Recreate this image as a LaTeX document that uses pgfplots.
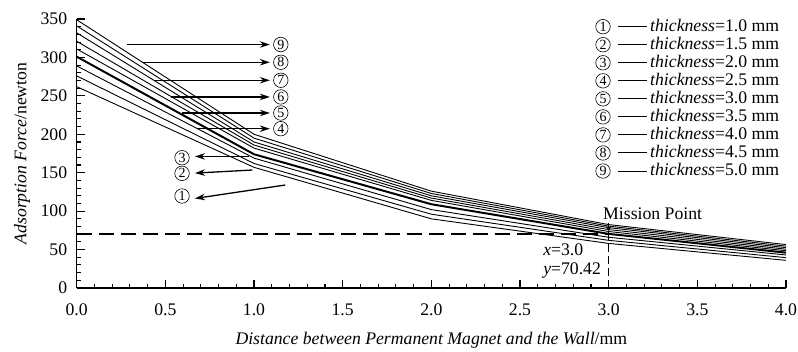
\documentclass[border=0pt]{standalone}
\usepackage{pgfplots}
\pgfplotsset{compat=1.18}
\usepackage{fontspec}
\setmainfont{Liberation Serif}
\usetikzlibrary{arrows.meta}
\tikzset{circ/.style={circle, draw, line width=0.6pt, inner sep=0pt, minimum size=14.5pt, font=\fontsize{14}{14}\selectfont},
  arr/.style={-{Stealth[length=10pt,width=6.5pt]}, line width=1.3pt}}
\begin{document}
\begin{tikzpicture}
\begin{axis}[name=ax, scale only axis, width=709.3pt, height=269pt,
  xmin=0, xmax=4, ymin=0, ymax=350,
  axis x line*=bottom, axis y line*=left,
  axis line style={line width=1.3pt, -},
  tick align=inside, major tick length=8pt, minor tick length=4.5pt,
  every tick/.style={line width=1.1pt, black},
  xtick={0,0.5,...,4}, minor x tick num=4,
  ytick={0,50,...,350}, minor y tick num=4,
  /pgf/number format/assume math mode=true,
  tick label style={font=\fontsize{17.7}{17.7}\selectfont},
  xticklabel style={/pgf/number format/fixed, /pgf/number format/fixed zerofill, /pgf/number format/precision=1, yshift=-12pt},
  yticklabel style={xshift=-6pt},
  label style={font=\fontsize{17.7}{17.7}\selectfont},
  xlabel={\textit{Distance between Permanent Magnet and the Wall}/mm},
  ylabel={\textit{Adsorption Force}/newton},
  x label style={at={(axis description cs:0.5,-0.1933)}, anchor=center},
  y label style={at={(axis description cs:-0.0771,0.5)}, anchor=center},
]
% thickness = 1.0, 1.5, ..., 5.0 mm
\addplot[black, line width=0.9pt] coordinates {(0,262)(1,157)(2,90)(3,58)(4,36)};
\addplot[black, line width=0.9pt] coordinates {(0,276)(1,162)(2,96)(3,62)(4,39.5)};
\addplot[black, line width=0.9pt] coordinates {(0,289)(1,169)(2,102)(3,66)(4,43)};
\addplot[black, line width=2pt] coordinates {(0,301)(1,174)(2,109)(3,70.42)(4,46)};
\addplot[black, line width=0.9pt] coordinates {(0,311)(1,182)(2,114)(3,73.5)(4,48.5)};
\addplot[black, line width=0.9pt] coordinates {(0,321)(1,186)(2,117)(3,76)(4,50.5)};
\addplot[black, line width=0.9pt] coordinates {(0,332)(1,190)(2,120)(3,78.5)(4,52.5)};
\addplot[black, line width=0.9pt] coordinates {(0,341)(1,195)(2,123)(3,80.5)(4,54.5)};
\addplot[black, line width=0.9pt] coordinates {(0,349)(1,200)(2,126)(3,82.5)(4,56.5)};
% mission point guides
\addplot[black, line width=1.4pt, dash pattern=on 15pt off 7pt] coordinates {(0,70.42)(3,70.42)};
\addplot[black, line width=1.4pt, dash pattern=on 8pt off 4pt] coordinates {(3,0)(3,76)};
\draw[-{Stealth[length=5pt,width=5pt]}, line width=0.8pt] (axis cs:3,84) -- (axis cs:3,74);
\node[font=\fontsize{17.7}{17.7}\selectfont] at (axis cs:3.248,97.2) {Mission Point};
\node[anchor=west, font=\fontsize{17.7}{17.7}\selectfont, inner sep=0pt] at (axis cs:2.63,50.3) {\textit{x}=3.0};
\node[anchor=west, font=\fontsize{17.7}{17.7}\selectfont, inner sep=0pt] at (axis cs:2.63,22.5) {\textit{y}=70.42};
% annotation arrows
\draw[arr] (axis cs:0.286,316.8) -- (axis cs:1.089,316.8); \node[circ] at (axis cs:1.151,316.8) {9};
\draw[arr] (axis cs:0.371,293.7) -- (axis cs:1.089,293.7); \node[circ] at (axis cs:1.151,293.7) {8};
\draw[arr] (axis cs:0.442,270.3) -- (axis cs:1.089,270.3); \node[circ] at (axis cs:1.151,270.3) {7};
\draw[arr] (axis cs:0.530,248.6) -- (axis cs:1.089,248.6); \node[circ] at (axis cs:1.151,248.6) {6};
\draw[arr] (axis cs:0.596,227.7) -- (axis cs:1.089,227.7); \node[circ] at (axis cs:1.151,227.7) {5};
\draw[arr] (axis cs:0.681,207.3) -- (axis cs:1.089,207.3); \node[circ] at (axis cs:1.151,207.3) {4};
\draw[arr] (axis cs:0.970,171.2) -- (axis cs:0.667,171.2); \node[circ] at (axis cs:0.594,169.5) {3};
\draw[arr] (axis cs:0.990,153.5) -- (axis cs:0.667,149.5); \node[circ] at (axis cs:0.594,149.2) {2};
\draw[arr] (axis cs:1.176,134.0) -- (axis cs:0.667,116.5); \node[circ] at (axis cs:0.594,119.7) {1};
\end{axis}
% legend
\foreach \i/\t in {1/1.0,2/1.5,3/2.0,4/2.5,5/3.0,6/3.5,7/4.0,8/4.5,9/5.0} {
  \pgfmathsetmacro\yy{-7.7-18.04*(\i-1)}
  \pgfmathsetmacro\yb{\yy-4.8}
  \node[circ] at ([shift={(-183pt,\yy pt)}]ax.north east) {\i};
  \draw[line width=1pt] ([shift={(-168pt,\yy pt)}]ax.north east) -- ([shift={(-139pt,\yy pt)}]ax.north east);
  \node[anchor=base west, inner sep=0pt, font=\fontsize{17.7}{17.7}\selectfont] at ([shift={(-136pt,\yb pt)}]ax.north east) {\textit{thickness}=\t\ mm};
}
\pgfresetboundingbox
\path ([shift={(-76.7pt,-63pt)}]ax.south west) rectangle ([shift={(12pt,19pt)}]ax.north east);
\end{tikzpicture}
\end{document}
